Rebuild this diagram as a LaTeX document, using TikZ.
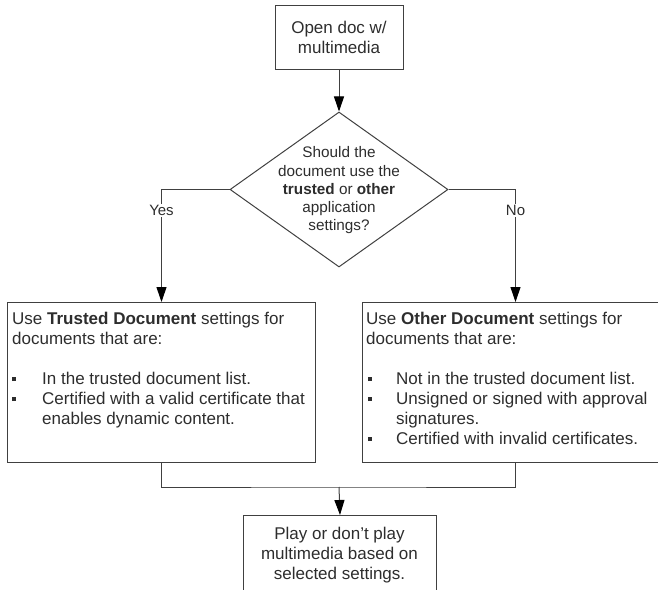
\documentclass[tikz,border=0pt]{standalone}
\usepackage{fontspec}
\setmainfont{Liberation Sans}
\usetikzlibrary{shapes.geometric,arrows.meta}
\definecolor{ln}{RGB}{64,64,64}
\definecolor{tx}{RGB}{45,45,45}
\newcommand{\bul}[1][0pt]{\hspace*{#1}\makebox[\dimexpr30pt-#1\relax][l]{\raisebox{3.5pt}{\rule{4pt}{4.5pt}}}}
\begin{document}
\begin{tikzpicture}[x=1pt,y=-1pt,
  box/.style={draw=ln, line width=1pt, rectangle, inner sep=0pt},
  conn/.style={draw=ln, line width=1pt},
  arr/.style={conn, -{Triangle[length=15pt,width=10pt,color=black,fill=black]}},
  lbl/.style={fill=white, inner sep=1.5pt, text=tx, font=\fontsize{15pt}{18pt}\selectfont},
  big/.style={text=tx, font=\fontsize{17pt}{20pt}\selectfont},
  dtext/.style={text=tx, font=\fontsize{15.3pt}{18.3pt}\selectfont},
]
\useasboundingbox (0,0) rectangle (658,589);
\clip (0,0) rectangle (658,589);
% top box
\node[box, big, align=center, minimum width=128pt, minimum height=64pt] (open) at (339,37) {Open doc w/\\multimedia};
% decision
\node[diamond, draw=ln, line width=1pt, minimum width=218pt, minimum height=155pt, inner sep=0pt] (q) at (339,189.5) {};
\node[dtext, align=center, inner sep=0pt, anchor=north] (qt) at (339,146.5) {Should the\\document use the\\\textbf{trusted} or \textbf{other}\\application\\settings?};
% left box
\node[box, minimum width=308pt, minimum height=160pt, anchor=north west] (lbox) at (7,302) {};
\node[big, align=left, inner sep=0pt, anchor=north west] (lt) at (12,312) {Use \textbf{Trusted Document} settings for\\documents that are:\\[20pt]\bul In the trusted document list.\\\bul Certified with a valid certificate that\\\hspace*{30pt}enables dynamic content.};
% right box
\node[box, minimum width=306pt, minimum height=160pt, anchor=north west] (rbox) at (362,302) {};
\node[big, align=left, inner sep=0pt, anchor=north west] (rt) at (366,312) {Use \textbf{Other Document} settings for\\documents that are:\\[20pt]\bul[1.5pt]Not in the trusted document list.\\\bul[1.5pt]Unsigned or signed with approval\\\hspace*{30pt}signatures.\\\bul[1.5pt]Certified with invalid certificates.};
% bottom box
\node[box, minimum width=193pt, minimum height=100pt, anchor=north west] (play) at (243,515) {};
\node[big, align=center, inner sep=0pt, anchor=north] (playt) at (339.5,527) {Play or don’t play\\multimedia based on\\selected settings.};
% connectors
\draw[arr] (open) -- (q);
\draw[arr] (q.west) -| node[lbl, pos=0.593] {Yes} (lbox.north);
\draw[arr] (q.east) -| node[lbl, pos=0.593] {No} (rbox.north);
\coordinate (j) at (339,487);
\draw[conn] (lbox.south) |- (j) -| (rbox.south);
\draw[arr] (j) -- (play.north);
\end{tikzpicture}
\end{document}
